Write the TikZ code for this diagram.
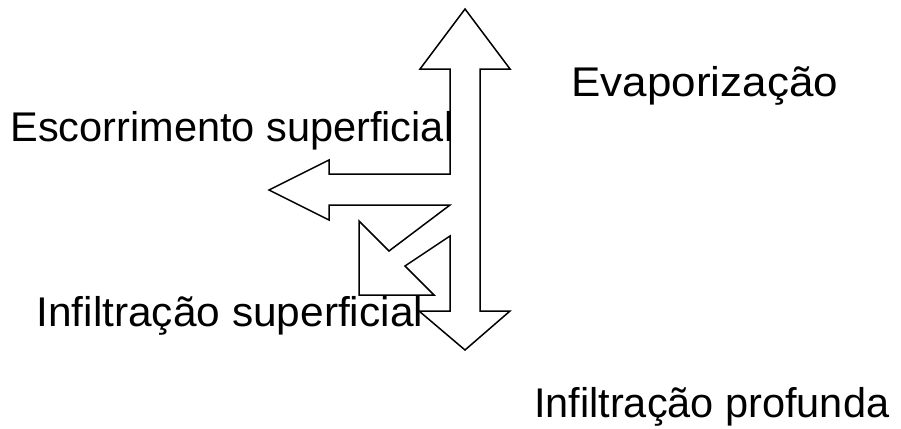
\documentclass[tikz,border=0pt]{standalone}
\usepackage{fontspec}
\setmainfont{Liberation Sans}
\begin{document}
\begin{tikzpicture}[x=1pt,y=-1pt,
  lbl/.style={anchor=base west,inner sep=0pt,outer sep=0pt,font=\fontsize{41.5}{48}\selectfont},
  outline/.style={draw=black,line width=1.5pt,line join=miter,fill=none}]
\useasboundingbox (0,0) rectangle (901,428);
\draw[outline] (465,9) -- (510,69) -- (480,69) -- (480,311) -- (510,311)
  -- (465,350) -- (419,311) -- (450,311) -- (450,236) -- (405,266)
  -- (434,295) -- (359,295) -- (359,221) -- (389,251) -- (450,205)
  -- (329,205) -- (329,220) -- (269,190) -- (329,160) -- (329,174)
  -- (450,174) -- (450,69) -- (420,69) -- cycle;
\node[lbl] (evap) at (571.5,96.5) {\scalebox{1.06}[1]{Evaporização}};
\node[lbl] (esc) at (10.5,141) {Escorrimento superficial};
\node[lbl] (infs) at (36.5,326) {\scalebox{1.022}[1]{Infiltração superficial}};
\node[lbl] (infp) at (534,417) {Infiltração profunda};
\end{tikzpicture}
\end{document}
